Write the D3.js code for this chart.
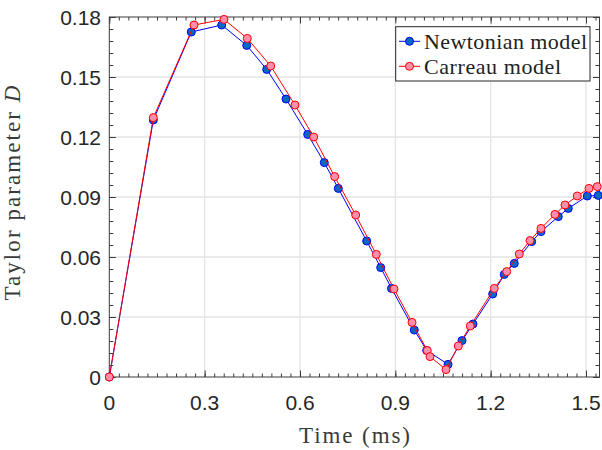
<!DOCTYPE html>
<html><head><meta charset="utf-8">
<script src="https://cdn.jsdelivr.net/npm/d3@7/dist/d3.min.js"></script>
<style>html,body{margin:0;padding:0;background:#fff;}svg{display:block;}
.serif{font-family:"Liberation Serif";font-weight:normal;}
.sans{font-family:"Liberation Sans";font-weight:normal;}
</style>
</head><body>
<svg id="chart" width="602" height="450"></svg>
<script>
// ---- data ----
const newtonTime = [0, 0.1385, 0.258, 0.3537, 0.4324, 0.4953, 0.5560, 0.6243, 0.6765, 0.7206, 0.8099, 0.8540, 0.888, 0.9597, 0.9987, 1.0658, 1.1098, 1.1444, 1.2064, 1.2429, 1.2744, 1.3291, 1.3584, 1.4128, 1.4443, 1.5041, 1.5387];
const newtonD    = [0, 0.1285, 0.1725, 0.1760, 0.1658, 0.1538, 0.1390, 0.1213, 0.1072, 0.0943, 0.0680, 0.0547, 0.0443, 0.0235, 0.0133, 0.0063, 0.0182, 0.0265, 0.0415, 0.0513, 0.0568, 0.0677, 0.0727, 0.0802, 0.0843, 0.0905, 0.0908];
const carreauTime = [0, 0.1385, 0.2665, 0.3609, 0.4342, 0.5079, 0.5843, 0.6432, 0.7092, 0.7753, 0.8402, 0.8959, 0.9525, 1.0006, 1.0091, 1.0595, 1.0982, 1.1359, 1.2115, 1.2505, 1.2901, 1.3238, 1.3584, 1.4024, 1.4339, 1.4726, 1.5094, 1.5355];
const carreauD    = [0, 0.1297, 0.1760, 0.1788, 0.1693, 0.1555, 0.1360, 0.1200, 0.1002, 0.0810, 0.0613, 0.0440, 0.0273, 0.0132, 0.0102, 0.0037, 0.0155, 0.0255, 0.0443, 0.0527, 0.0615, 0.0682, 0.0743, 0.0813, 0.0860, 0.0905, 0.0943, 0.0952];
const xTicks = [0, 0.3, 0.6, 0.9, 1.2, 1.5];
const xTickLabels = ["0", "0.3", "0.6", "0.9", "1.2", "1.5"];
const yTicks = [0, 0.03, 0.06, 0.09, 0.12, 0.15, 0.18];
const yTickLabels = ["0", "0.03", "0.06", "0.09", "0.12", "0.15", "0.18"];
const seriesNames = ["Newtonian model", "Carreau model"];
const xLimits = [0, 1.5425];
const yLimits = [0, 0.18];

// ---- layout ----
const L = 109.3, R = 599.5, T = 17, B = 377;
const svg = d3.select("#chart");
const x = d3.scaleLinear().domain(xLimits).range([L, R]);
const y = d3.scaleLinear().domain(yLimits).range([B, T]);

// grid
const grid = svg.append("g");
grid.selectAll(".gx").data(xTicks.filter(v => v > 0)).enter().append("line")
  .attr("x1", d => x(d)).attr("x2", d => x(d)).attr("y1", T).attr("y2", B)
  .attr("stroke", "#e4e4e4").attr("stroke-width", 1.3);
grid.selectAll(".gy").data(yTicks.filter(v => v > 0 && v < 0.18)).enter().append("line")
  .attr("y1", d => y(d)).attr("y2", d => y(d)).attr("x1", L).attr("x2", R)
  .attr("stroke", "#e4e4e4").attr("stroke-width", 1.3);

// axes (inward ticks, mirrored)
const axCol = "#3a3a3a";
const xMinor = d3.range(0, xLimits[1] + 1e-9, 0.03);
const yMinor = d3.range(0, yLimits[1] + 1e-9, 0.006);
function xAxisAt(yPos, dir) {
  const g = svg.append("g").attr("transform", `translate(0,${yPos})`);
  g.call(d3.axisBottom(x).tickValues(xMinor).tickSize(3.5 * dir).tickFormat(""));
  const g2 = svg.append("g").attr("transform", `translate(0,${yPos})`);
  g2.call(d3.axisBottom(x).tickValues(xTicks).tickSize(6.5 * dir).tickFormat(""));
  [g, g2].forEach(gg => { gg.select(".domain").remove(); gg.selectAll("line").attr("stroke", axCol).attr("stroke-width", 1); });
}
function yAxisAt(xPos, dir) {
  const g = svg.append("g").attr("transform", `translate(${xPos},0)`);
  g.call(d3.axisLeft(y).tickValues(yMinor).tickSize(4 * dir).tickFormat(""));
  const g2 = svg.append("g").attr("transform", `translate(${xPos},0)`);
  g2.call(d3.axisLeft(y).tickValues(yTicks).tickSize(6.5 * dir).tickFormat(""));
  [g, g2].forEach(gg => { gg.select(".domain").remove(); gg.selectAll("line").attr("stroke", axCol).attr("stroke-width", 1); });
}
xAxisAt(B, -1);
xAxisAt(T, 1);
yAxisAt(L, -1);
yAxisAt(R, 1);
svg.append("rect").attr("x", L).attr("y", T).attr("width", R - L).attr("height", B - T)
  .attr("fill", "none").attr("stroke", axCol).attr("stroke-width", 1);

// tick labels
svg.selectAll(".xl").data(xTicks).enter().append("text").attr("class", "sans")
  .attr("x", d => x(d)).attr("y", 410).attr("text-anchor", "middle")
  .attr("font-size", 21).attr("fill", "#262626")
  .text((d, i) => xTickLabels[i]);
svg.selectAll(".yl").data(yTicks).enter().append("text").attr("class", "sans")
  .attr("x", 101).attr("y", d => y(d) + 7.5).attr("text-anchor", "end")
  .attr("font-size", 21).attr("fill", "#262626")
  .text((d, i) => yTickLabels[i]);

// axis labels
svg.append("text").attr("class", "serif").attr("x", 354.5).attr("y", 442.5).attr("text-anchor", "middle")
  .attr("font-size", 23).attr("fill", "#3a3a3a")
  .attr("textLength", 111).attr("lengthAdjust", "spacing")
  .text("Time (ms)");
const yl = svg.append("text").attr("class", "serif").attr("transform", "translate(19.5,193) rotate(-90)")
  .attr("text-anchor", "middle").attr("font-size", 23).attr("fill", "#3a3a3a")
  .attr("textLength", 215).attr("lengthAdjust", "spacing");
yl.append("tspan").text("Taylor parameter ");
yl.append("tspan").attr("font-style", "italic").text("D");

// series
const series = [
  { name: seriesNames[0], t: newtonTime, v: newtonD, line: "#0000ff", edge: "#0000ff", fill: "#0a68bd" },
  { name: seriesNames[1], t: carreauTime, v: carreauD, line: "#ff0000", edge: "#ff0000", fill: "#ff8fab" }
];
const lineGen = d3.line().x(d => x(d[0])).y(d => y(d[1]));
series.forEach(s => {
  const pts = s.t.map((t, i) => [t, s.v[i]]);
  svg.append("path").datum(pts).attr("d", lineGen).attr("fill", "none")
    .attr("stroke", s.line).attr("stroke-width", 1);
  svg.append("g").selectAll("circle").data(pts).enter().append("circle")
    .attr("cx", d => x(d[0])).attr("cy", d => y(d[1])).attr("r", 4)
    .attr("fill", s.fill).attr("stroke", s.edge).attr("stroke-width", 1);
});

// legend
const lg = svg.append("g");
lg.append("rect").attr("x", 395.7).attr("y", 26.7).attr("width", 194.3).attr("height", 54.3)
  .attr("fill", "#fff").attr("stroke", "#262626").attr("stroke-width", 1);
const rowsY = [41.3, 66.3];
const textLens = [163, 137];
series.forEach((s, i) => {
  lg.append("line").attr("x1", 399).attr("x2", 420).attr("y1", rowsY[i]).attr("y2", rowsY[i])
    .attr("stroke", s.line).attr("stroke-width", 1);
  lg.append("circle").attr("cx", 409.5).attr("cy", rowsY[i]).attr("r", 4)
    .attr("fill", s.fill).attr("stroke", s.edge).attr("stroke-width", 1);
  lg.append("text").attr("class", "serif").attr("x", 424).attr("y", rowsY[i] + 7.4)
    .attr("font-size", 22).attr("fill", "#222")
    .attr("textLength", textLens[i]).attr("lengthAdjust", "spacing")
    .text(s.name);
});
</script>
</body></html>
